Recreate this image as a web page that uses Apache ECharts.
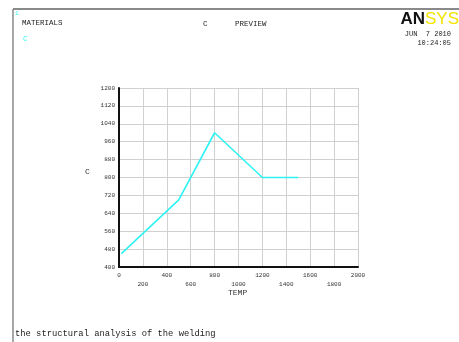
<!DOCTYPE html>
<html><head><meta charset="utf-8">
<script src="https://cdn.jsdelivr.net/npm/echarts@6/dist/echarts.min.js"></script>
<style>html,body{margin:0;padding:0;background:#fff}#c{width:459px;height:342px}</style>
</head><body><div id="c"></div>
<script>
const temps = [20, 500, 800, 1200, 1500];
const values = [460, 700, 1000, 800, 800];
const xTicks = [0, 200, 400, 600, 800, 1000, 1200, 1400, 1600, 1800, 2000];
const yTicks = [400, 480, 560, 640, 720, 800, 880, 960, 1040, 1120, 1200];

const mono = 'Liberation Mono';
const chart = echarts.init(document.getElementById('c'));
chart.setOption({
  backgroundColor: '#fff',
  animation: false,
  grid: {left: 119, top: 88, width: 239, height: 179, containLabel: false},
  xAxis: {
    type: 'value', min: xTicks[0], max: xTicks[xTicks.length-1], interval: 200,
    axisLine: {lineStyle: {color: '#111', width: 2}},
    axisTick: {show: false},
    splitLine: {lineStyle: {color: '#d0d0d0', width: 1}},
    axisLabel: {
      fontFamily: mono, fontSize: 6, color: '#333', margin: 4, lineHeight: 9,
      formatter: v => (xTicks.indexOf(v) % 2 === 0 ? String(v) : '\n' + v)
    }
  },
  yAxis: {
    type: 'value', min: yTicks[0], max: yTicks[yTicks.length-1], interval: 80,
    axisLine: {show: true, lineStyle: {color: '#111', width: 2}},
    axisTick: {show: false},
    splitLine: {lineStyle: {color: '#d0d0d0', width: 1}},
    axisLabel: {fontFamily: mono, fontSize: 6, color: '#333', margin: 4, formatter: v => String(v)}
  },
  series: [{
    type: 'line', data: temps.map((t, i) => [t, values[i]]),
    symbol: 'none', lineStyle: {color: '#2ff3f3', width: 1.6}
  }],
  graphic: [
    {type: 'line', shape: {x1: 13, y1: 9, x2: 459, y2: 9}, style: {stroke: '#8a8a8a', lineWidth: 2}},
    {type: 'line', shape: {x1: 13, y1: 9, x2: 13, y2: 342}, style: {stroke: '#8a8a8a', lineWidth: 1.5}},
    {type: 'text', left: 15, top: 10, style: {text: '1', font: '6px ' + mono, fill: '#2ff3f3'}},
    {type: 'text', left: 22, top: 19, style: {text: 'MATERIALS', font: '7.5px ' + mono, fill: '#222'}},
    {type: 'text', left: 203, top: 20, style: {text: 'C', font: '7.5px ' + mono, fill: '#222'}},
    {type: 'text', left: 235, top: 20, style: {text: 'PREVIEW', font: '7.5px ' + mono, fill: '#222'}},
    {type: 'text', left: 23, top: 35, style: {text: 'C', font: '7.5px ' + mono, fill: '#2ff3f3'}},
    {type: 'text', left: 85, top: 168, style: {text: 'C', font: '8px ' + mono, fill: '#333'}},
    {type: 'text', left: 228, top: 289, style: {text: 'TEMP', font: '8px ' + mono, fill: '#333'}},
    {type: 'text', right: 0, top: 11, style: {
      text: '{a|AN}{b|SYS}',
      rich: {a: {fontFamily: 'Liberation Sans', fontWeight: 'bold', fontSize: 17, fill: '#111', color: '#111'},
             b: {fontFamily: 'Liberation Sans', fontSize: 17, fill: '#f3e300', color: '#f3e300'}}
    }},
    {type: 'text', right: 8, top: 31, style: {text: 'JUN  7 2010', font: '7px ' + mono, fill: '#222', align: 'right'}},
    {type: 'text', right: 8, top: 40, style: {text: '10:24:05', font: '7px ' + mono, fill: '#222', align: 'right'}},
    {type: 'text', left: 15, top: 329, style: {text: 'the structural analysis of the welding', font: '8.8px ' + mono, fill: '#222'}}
  ]
});
</script></body></html>
